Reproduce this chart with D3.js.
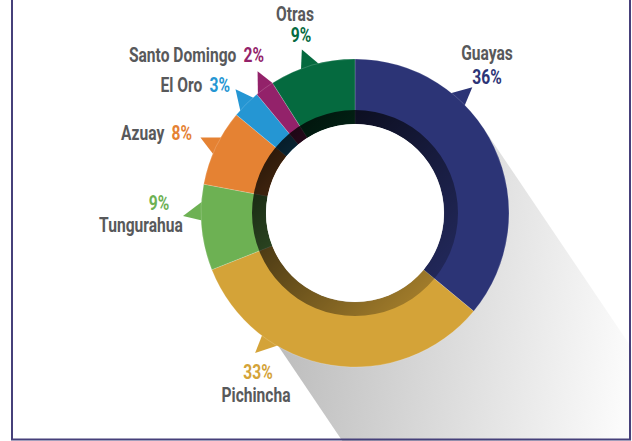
<!DOCTYPE html>
<html>
<head>
<meta charset="utf-8">
<script src="https://cdn.jsdelivr.net/npm/d3@7"></script>
<style>
  html, body { margin: 0; padding: 0; background: #fff; }
  svg { display: block; }
  text { font-family: "Roboto", "Liberation Sans", sans-serif; font-weight: bold; }
</style>
</head>
<body>
<svg id="chart" width="632" height="441"></svg>
<script>
"use strict";

// données : provinces et pourcentages
var provinces = ["Guayas", "Pichincha", "Tungurahua", "Azuay", "El Oro", "Santo Domingo", "Otras"];
var percents = [36, 33, 9, 8, 3, 2, 9];
var colors = ["#2c3476", "#d4a338", "#6db153", "#e58233", "#2596d3", "#93226a", "#056a3f"];

// mise en page (angle de la pointe en degrés, position des étiquettes)
var tails = [[42, 43], [213.5, 215.5], [271, 269], [296, 296], [315, 316], [324, 325.5], [343, 342]];
var labels = [
  { type: "stack", name: [487, 60], pct: [487, 84] },
  { type: "stackRev", name: [256, 402], pct: [258, 379] },
  { type: "stackRev", name: [141, 232], pct: [159, 210] },
  { type: "inline", end: [192, 140] },
  { type: "inline", end: [230, 92] },
  { type: "inline", end: [264, 62] },
  { type: "stack", name: [295, 21], pct: [301, 42] }
];

var svg = d3.select("#chart");
var cx = 355, cy = 213, R = 154, rIn = 89, rShade = 103;

var defs = svg.append("defs");

// ombre portée
var sg = defs.append("linearGradient")
  .attr("id", "shadowGrad")
  .attr("gradientUnits", "userSpaceOnUse")
  .attr("x1", 280).attr("y1", 340).attr("x2", 625).attr("y2", 380);
sg.append("stop").attr("offset", 0).attr("stop-color", "#bdbdbd");
sg.append("stop").attr("offset", 1).attr("stop-color", "#fbfbfb");

var rg = defs.append("linearGradient")
  .attr("id", "ringGrad")
  .attr("x1", 0.15).attr("y1", 0.15).attr("x2", 0.85).attr("y2", 0.85);
rg.append("stop").attr("offset", 0).attr("stop-color", "#000").attr("stop-opacity", 0.8);
rg.append("stop").attr("offset", 1).attr("stop-color", "#000").attr("stop-opacity", 0.25);

var ang = 56 * Math.PI / 180;
var d = [Math.cos(ang), Math.sin(ang)];
var n = [Math.sin(ang), -Math.cos(ang)];
var L = 600;
var shadowPts = [
  [cx + 154 * n[0], cy + 154 * n[1]],
  [cx + 154 * n[0] + L * d[0], cy + 154 * n[1] + L * d[1]],
  [cx - 138 * n[0] + L * d[0], cy - 138 * n[1] + L * d[1]],
  [cx - 138 * n[0], cy - 138 * n[1]]
];
svg.append("polygon")
  .attr("points", shadowPts.map(function (p) { return p.join(","); }).join(" "))
  .attr("fill", "url(#shadowGrad)");

var g = svg.append("g").attr("transform", "translate(" + cx + "," + cy + ")");

var pie = d3.pie().sort(null).value(function (v) { return v; });
var arcs = pie(percents);
var arc = d3.arc().innerRadius(rIn).outerRadius(R);

// pointes (bulles)
function rad(a) { return a * Math.PI / 180; }
g.selectAll("path.tail")
  .data(arcs)
  .enter()
  .append("path")
  .attr("class", "tail")
  .attr("fill", function (a, i) { return colors[i]; })
  .attr("d", function (a, i) {
    var t = tails[i];
    var p1 = d3.pointRadial(rad(t[0] - 4), R - 3);
    var p2 = d3.pointRadial(rad(t[1]), 172);
    var p3 = d3.pointRadial(rad(t[0] + 4), R - 3);
    return "M" + p1 + "L" + p2 + "L" + p3 + "Z";
  });

g.selectAll("path.slice")
  .data(arcs)
  .enter()
  .append("path")
  .attr("class", "slice")
  .attr("d", arc)
  .attr("fill", function (a, i) { return colors[i]; })
  .attr("stroke", "rgba(255,255,255,0.35)")
  .attr("stroke-width", 0.5);

// anneau intérieur sombre
g.append("path")
  .attr("d", d3.arc().innerRadius(rIn).outerRadius(rShade).startAngle(0).endAngle(2 * Math.PI)())
  .attr("fill", "url(#ringGrad)");

g.append("circle").attr("r", rIn).attr("fill", "#fff");

// étiquettes (police condensée par mise à l'échelle horizontale)
var fs = 19.5, sx = 0.8;
function label(x, y, anchor) {
  return svg.append("g")
    .attr("transform", "translate(" + x + "," + y + ") scale(" + sx + ",1)")
    .append("text")
    .attr("text-anchor", anchor)
    .attr("font-size", fs);
}
labels.forEach(function (lb, i) {
  if (lb.type === "inline") {
    var t = label(lb.end[0], lb.end[1], "end");
    t.append("tspan").attr("fill", "#58595b").text(provinces[i]);
    t.append("tspan").attr("fill", colors[i]).attr("dx", 9).text(percents[i] + "%");
  } else {
    label(lb.name[0], lb.name[1], "middle")
      .attr("fill", "#58595b")
      .text(provinces[i]);
    label(lb.pct[0], lb.pct[1], "middle")
      .attr("fill", colors[i])
      .text(percents[i] + "%");
  }
});

// cadre
svg.append("path")
  .attr("d", "M12,0V439.5H630V0")
  .attr("fill", "none")
  .attr("stroke", "#46407a")
  .attr("stroke-width", 2);
</script>
</body>
</html>
